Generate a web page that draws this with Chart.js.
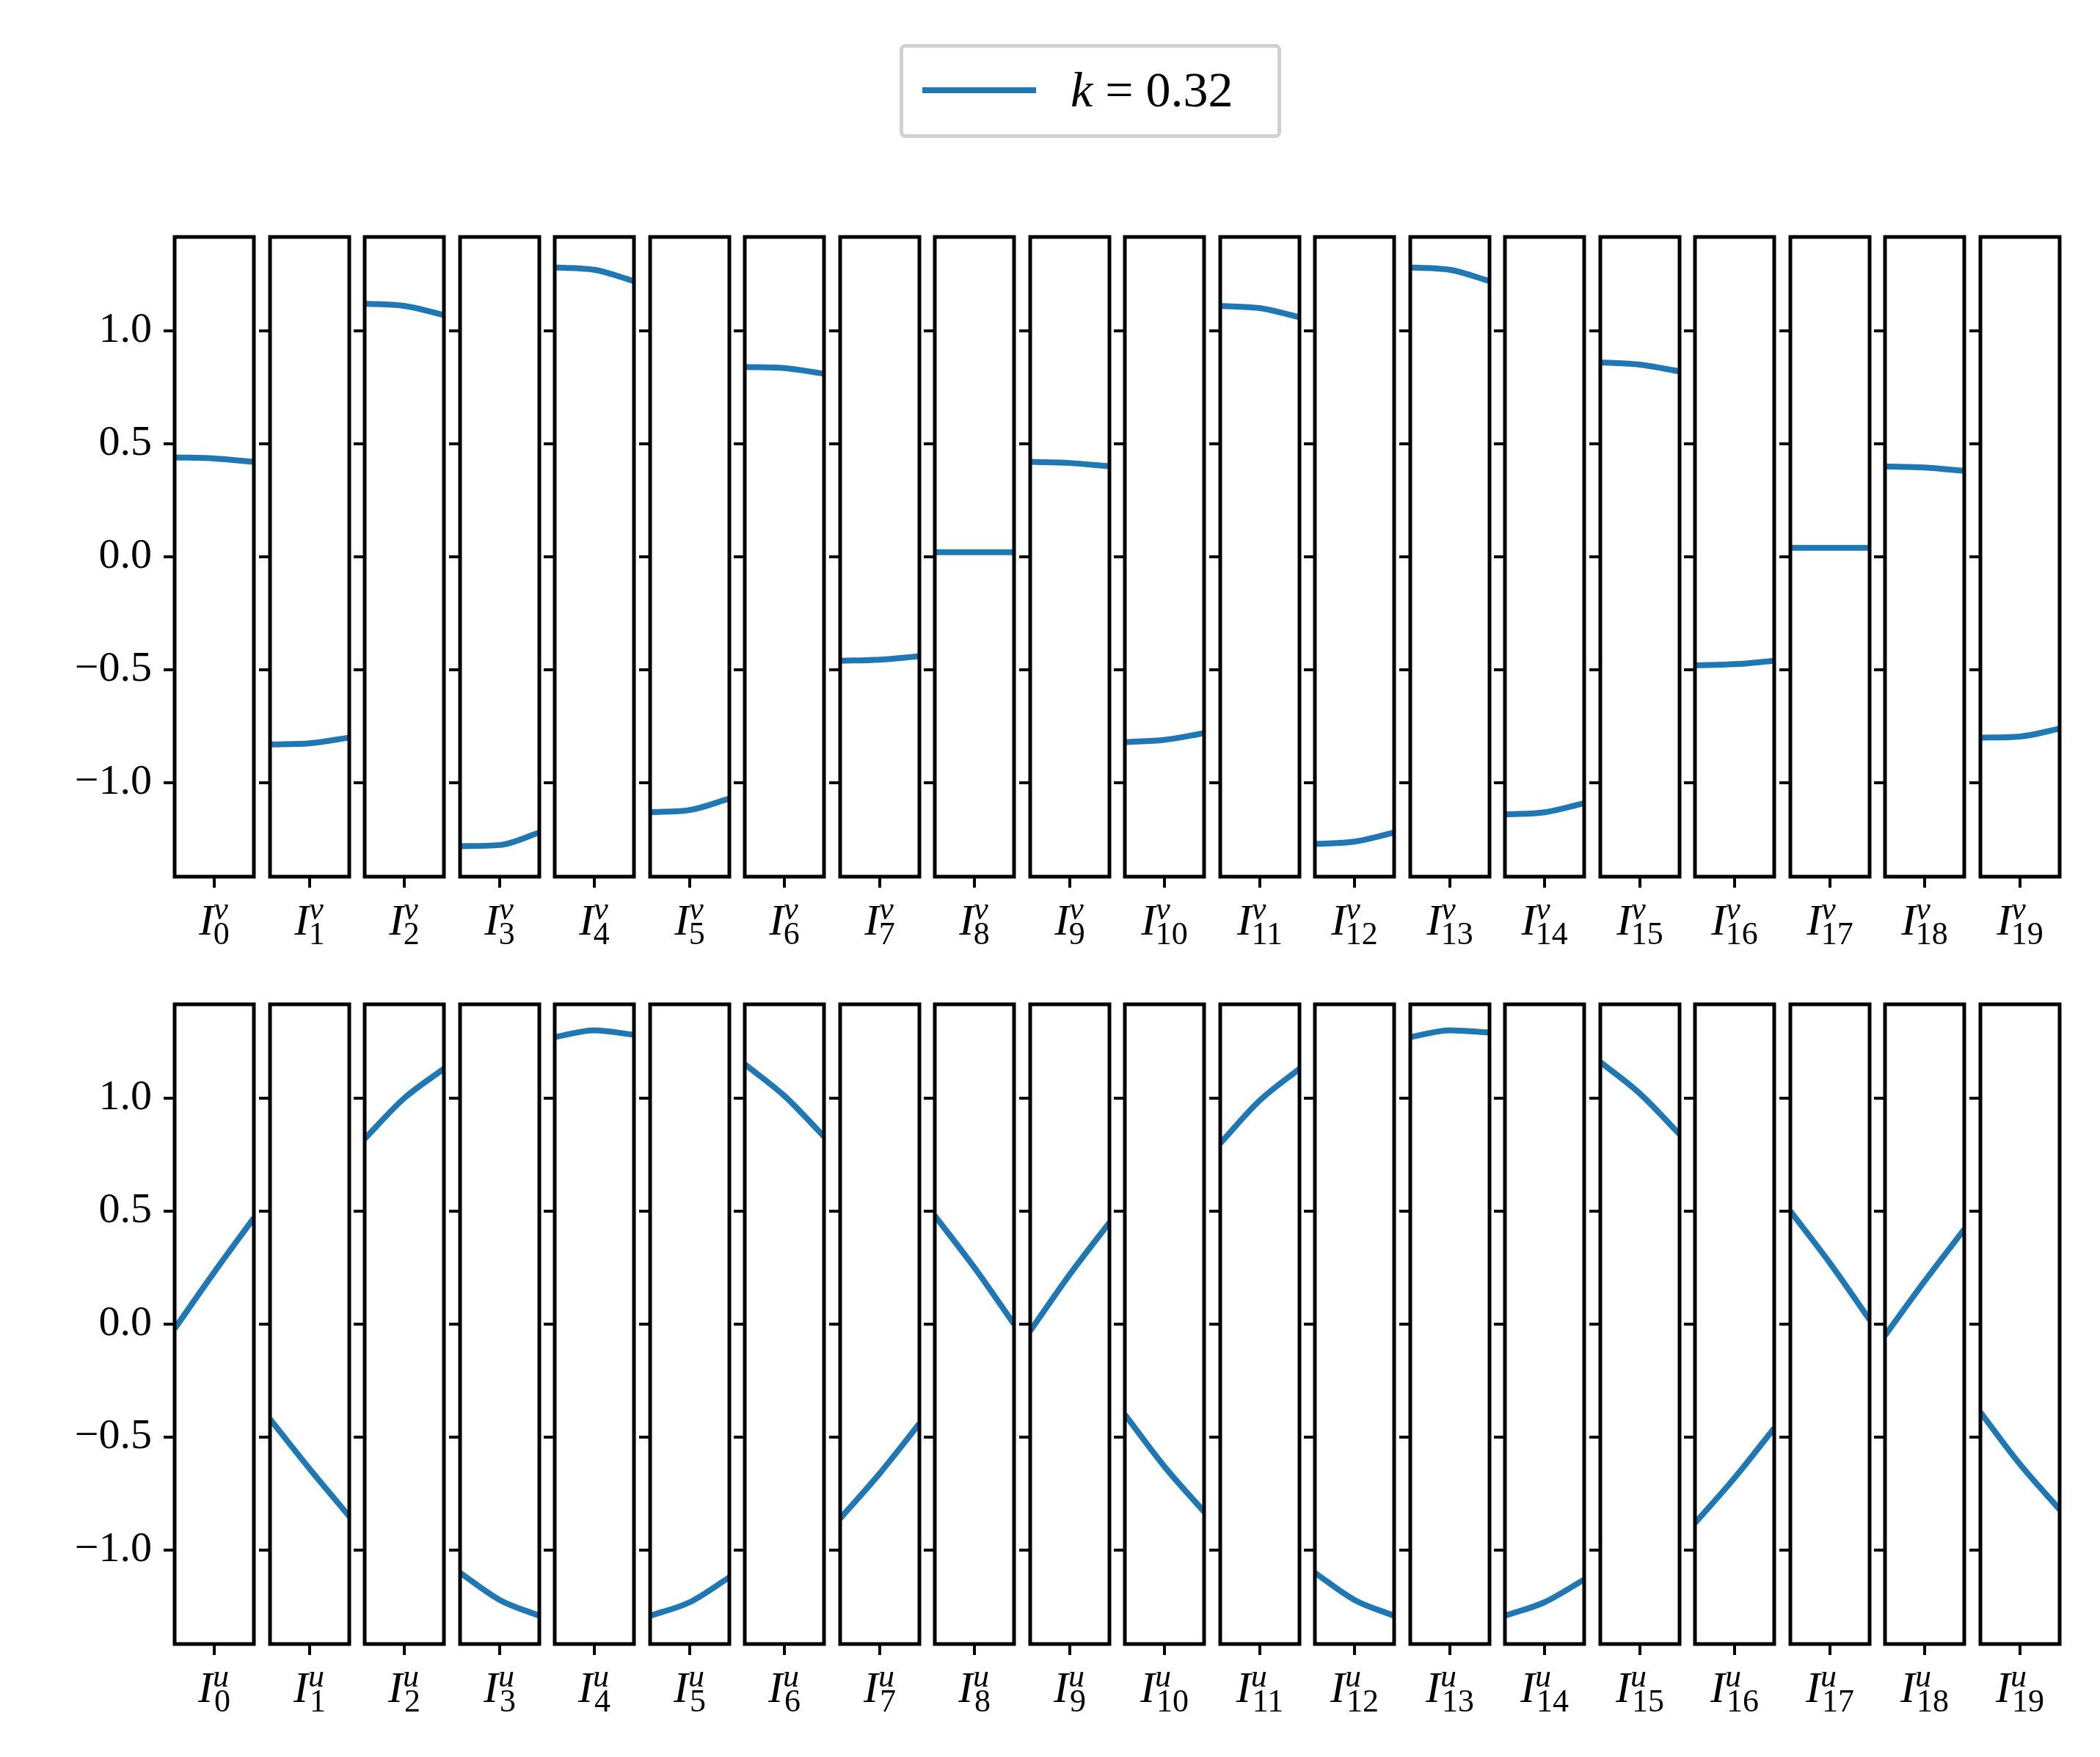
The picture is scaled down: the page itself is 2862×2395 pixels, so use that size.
<!DOCTYPE html>
<html>
<head>
<meta charset="utf-8">
<script src="https://cdn.jsdelivr.net/npm/chart.js@4/dist/chart.umd.min.js"></script>
<style>
  body { margin: 0; background: #fff; width: 2862px; height: 2395px; position: relative; overflow: hidden; font-family: "Liberation Serif", serif; }
  canvas { position: absolute; }
  .lab { position: absolute; font-size: 60px; font-style: italic; width: 130px; text-align: center; font-family: "Liberation Serif", serif; line-height: 1; }
  .lab sub, .lab sup { font-size: 44px; }
  .lab sub { font-style: normal; }
  #legend { position: absolute; left: 1226px; top: 60px; width: 520px; height: 128px; border: 5px solid #d0d0d0; border-radius: 8px; box-sizing: border-box; }
  #legend .ln { position: absolute; left: 26px; top: 54px; width: 155px; height: 8px; background: #1f77b4; }
  #legend .tx { position: absolute; left: 228px; top: 18px; font-size: 68px; font-family: "Liberation Serif", serif; }
</style>
</head>
<body>
<div id="legend"><div class="ln"></div><div class="tx"><i>k</i> = 0.32</div></div>
<script>
// valores por panel: inicio, medio, final
const valoresV = [
  [0.44, 0.435, 0.42], [-0.83, -0.825, -0.80], [1.12, 1.11, 1.07], [-1.28, -1.275, -1.22],
  [1.28, 1.27, 1.22], [-1.13, -1.12, -1.07], [0.84, 0.835, 0.81], [-0.46, -0.455, -0.44],
  [0.02, 0.02, 0.02], [0.42, 0.415, 0.40], [-0.82, -0.81, -0.78], [1.11, 1.10, 1.06],
  [-1.27, -1.26, -1.22], [1.28, 1.27, 1.22], [-1.14, -1.13, -1.09], [0.86, 0.85, 0.82],
  [-0.48, -0.475, -0.46], [0.04, 0.04, 0.04], [0.40, 0.395, 0.38], [-0.80, -0.795, -0.76]
];
const valoresU = [
  [-0.02, 0.23, 0.47], [-0.42, -0.64, -0.85], [0.82, 1.00, 1.13], [-1.10, -1.22, -1.29],
  [1.27, 1.30, 1.28], [-1.29, -1.23, -1.12], [1.15, 1.01, 0.83], [-0.86, -0.66, -0.44],
  [0.48, 0.25, 0.0], [-0.03, 0.22, 0.45], [-0.40, -0.63, -0.83], [0.80, 0.99, 1.13],
  [-1.10, -1.22, -1.29], [1.27, 1.30, 1.29], [-1.29, -1.23, -1.13], [1.16, 1.02, 0.84],
  [-0.88, -0.68, -0.46], [0.50, 0.27, 0.02], [-0.05, 0.19, 0.42], [-0.39, -0.62, -0.82]
];
const posX = [0, 0.5, 1];
const yTicks = [-1.0, -0.5, 0.0, 0.5, 1.0];

const px0 = 238, paso = 129.5, ancho = 108, alto = 872;
const filas = [{ top: 323, datos: valoresV, sup: 'v' }, { top: 1369, datos: valoresU, sup: 'u' }];

const marco = {
  id: 'marco',
  afterDraw(chart) {
    const a = chart.chartArea, ctx = chart.ctx;
    ctx.save();
    ctx.strokeStyle = '#000';
    ctx.lineWidth = 5;
    ctx.strokeRect(a.left, a.top, a.right - a.left, a.bottom - a.top);
    ctx.restore();
  }
};

filas.forEach(fila => {
  fila.datos.forEach((vals, i) => {
    const px = Math.round(px0 + i * paso);
    const margen = i === 0 ? px : 30;
    const cv = document.createElement('canvas');
    cv.width = margen + ancho + 4;
    cv.height = alto + 4 + 30;
    cv.style.left = (px - margen) + 'px';
    cv.style.top = (fila.top - 4) + 'px';
    document.body.appendChild(cv);

    new Chart(cv, {
      type: 'line',
      data: { datasets: [{ data: posX.map((x, j) => ({ x: x, y: vals[j] })), borderColor: '#1f77b4', borderWidth: 8, pointRadius: 0, cubicInterpolationMode: 'monotone' }] },
      options: {
        responsive: false, animation: false, devicePixelRatio: 1,
        layout: { padding: { top: 4, right: 4, left: 0, bottom: 0 } },
        plugins: { legend: { display: false }, tooltip: { enabled: false } },
        scales: {
          x: {
            type: 'linear', min: 0, max: 1,
            afterBuildTicks: s => { s.ticks = [{ value: 0.5 }]; },
            afterFit: s => { s.height = 30; s.paddingLeft = 0; s.paddingRight = 0; },
            border: { display: false },
            grid: { drawOnChartArea: false, drawTicks: true, tickLength: 15, color: '#000', lineWidth: 4 },
            ticks: { callback: () => '', padding: 0 }
          },
          y: {
            min: -1.415, max: 1.415,
            afterBuildTicks: s => { s.ticks = yTicks.map(v => ({ value: v })); },
            afterFit: s => { s.width = margen; s.paddingTop = 0; s.paddingBottom = 0; },
            border: { display: false },
            grid: { drawOnChartArea: false, drawTicks: true, tickLength: 15, color: '#000', lineWidth: 4 },
            ticks: {
              display: i === 0, padding: 16, color: '#000',
              font: { family: 'Liberation Serif', size: 58 },
              callback: v => (v < 0 ? '\u2212' : '') + Math.abs(v).toFixed(1)
            }
          }
        }
      },
      plugins: [marco]
    });

    const lab = document.createElement('div');
    lab.className = 'lab';
    lab.style.left = (px + ancho / 2 - 65) + 'px';
    lab.style.top = (fila.top + alto + 22) + 'px';
    lab.innerHTML = 'I<sup>' + fila.sup + '</sup><sub style="margin-left:-20px">' + i + '</sub>';
    document.body.appendChild(lab);
  });
});
</script>
</body>
</html>
